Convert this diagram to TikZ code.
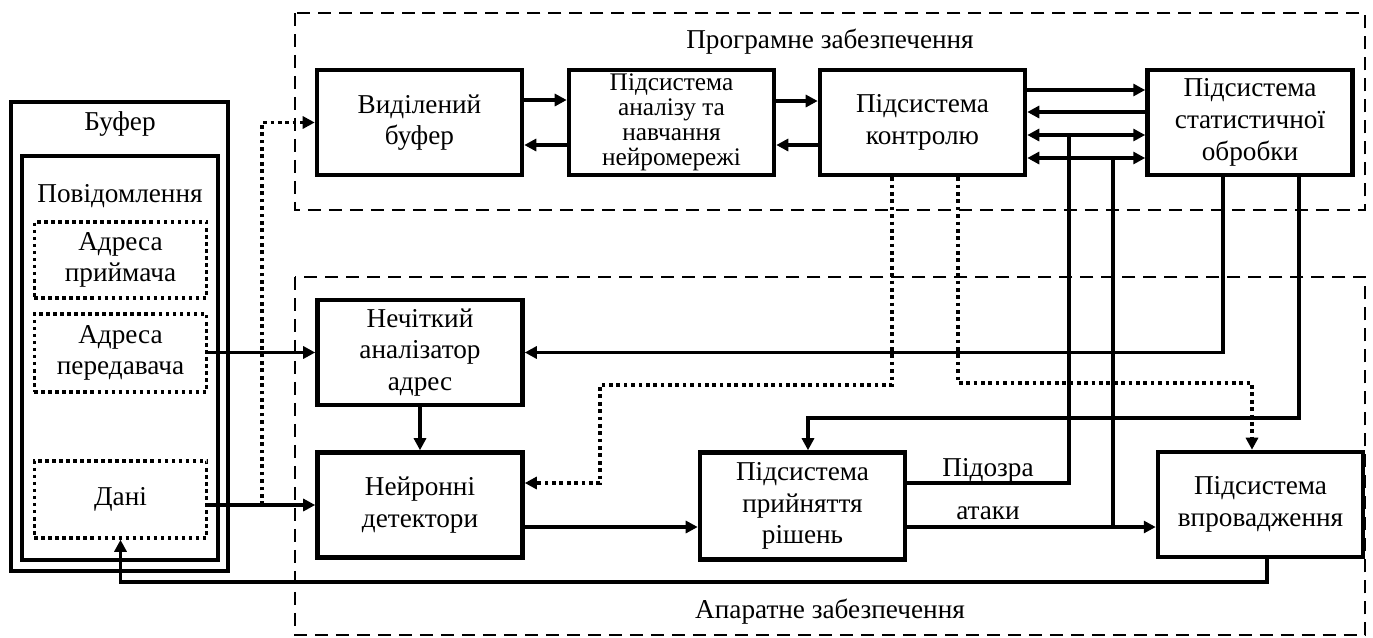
\documentclass[tikz,border=0pt]{standalone}
\usepackage{fontspec}
\setmainfont{Liberation Serif}
\usetikzlibrary{arrows.meta,calc}
\begin{document}
\begin{tikzpicture}[x=0.02cm,y=-0.02cm,
  font=\fontsize{15.5}{18}\selectfont,
  blk/.style={draw,line width=2.6pt,align=center,inner sep=0pt,minimum width=4.1cm,minimum height=2.1cm},
  dotbox/.style={draw,line width=2pt,dash pattern=on 2pt off 2pt,align=center,inner sep=0pt,minimum width=3.45cm},
  ln/.style={line width=2.1pt},
  arr/.style={ln,-{Triangle[length=0.24cm,width=0.24cm]}},
  arrb/.style={ln,{Triangle[length=0.24cm,width=0.24cm]}-{Triangle[length=0.24cm,width=0.24cm]}},
  dots/.style={line width=2.1pt,dash pattern=on 2.1pt off 2.1pt},
  darr/.style={dots,-{Triangle[length=0.24cm,width=0.24cm]}},
  dbox/.style={line width=1.5pt,dash pattern=on 0.26cm off 0.16cm},
  lbl/.style={inner sep=0pt}
]
\useasboundingbox (0,0) rectangle (1373,637);

% containers
\draw[dbox] (295,13) rectangle (1365,210);
\draw[dbox] (295,277) rectangle (1365,635);
\node[lbl] (sw) at (830,42) {Програмне забезпечення};
\node[lbl] (hw) at (830,612) {Апаратне забезпечення};

% buffer
\node[draw,line width=2.6pt,minimum width=4.34cm,minimum height=9.38cm,inner sep=0pt] (buf) at (119.5,336.5) {};
\node[draw,line width=2.6pt,minimum width=3.92cm,minimum height=8.08cm,inner sep=0pt] (msg) at (120,358) {};
\node[lbl] (buft) at (120,124) {Буфер};
\node[lbl] (msgt) at (120,196) {Повідомлення};
\node[dotbox,minimum height=1.52cm] (adrpr) at (120.5,260) {Адреса\\приймача};
\node[dotbox,minimum height=1.56cm] (adrpe) at (120.5,353) {Адреса\\передавача};
\node[dotbox,minimum height=1.54cm] (dani) at (120.5,499.5) {Дані};

% software blocks
\node[blk] (vyd) at (419.5,122.5) {Виділений\\буфер};
\node[blk,font=\fontsize{14.4}{14.3}\selectfont] (anal) at (671.5,122.5) {Підсистема\\аналізу та\\навчання\\нейромережі};
\node[blk] (kontr) at (922.5,122.5) {Підсистема\\контролю};
\node[blk] (stat) at (1250,122.5) {Підсистема\\статистичної\\обробки};

% hardware blocks
\node[blk] (anlz) at (420,352.5) {Нечіткий\\аналізатор\\адрес};
\node[blk] (det) at (420,505) {Нейронні\\детектори};
\node[blk,minimum height=2.14cm] (dec) at (802.5,506) {Підсистема\\прийняття\\рішень};
\node[blk] (vpr) at (1260.5,504.5) {Підсистема\\впровадження};

% top connectors
\draw[arr] (vyd.east |- 0,100) -- (anal.west |- 0,100);
\draw[arr] (anal.west |- 0,145) -- (vyd.east |- 0,145);
\draw[arr] (anal.east |- 0,101) -- (kontr.west |- 0,101);
\draw[arr] (kontr.west |- 0,145) -- (anal.east |- 0,145);
\draw[arr] (kontr.east |- 0,90) -- (stat.west |- 0,90);
\draw[arr] (stat.west |- 0,112) -- (kontr.east |- 0,112);
\draw[arrb] (kontr.east |- 0,135) -- (stat.west |- 0,135);
\draw[arrb] (kontr.east |- 0,158) -- (stat.west |- 0,158);

% junctions
\coordinate (j1) at (1069,135);
\coordinate (j2) at (1113,158);
\coordinate (j3) at (1113,527);
\coordinate (jd) at (262,505);

% decision outputs
\draw[ln] (dec.east |- 0,483) -- (1069,483) -- (j1);
\draw[ln] (j2) -- (j3);
\draw[arr] (dec.east |- 0,527) -- (vpr.west |- 0,527);
\node[lbl] (susp) at (988,470) {Підозра};
\node[lbl] (att) at (988,513) {атаки};

% detectors
\draw[arr] (det.east |- 0,527) -- (dec.west |- 0,527);
\draw[arr] (anlz.south) -- (det.north);
\draw[arr] (adrpe.east |- anlz.west) -- (anlz.west);
\draw[arr] (dani.east |- det.west) -- (det.west);
\draw[darr] (jd) |- (vyd.west);

% statistics feedback
\draw[arr] (1223,0 |- stat.south) |- (anlz.east);
\draw[arr] (1299,0 |- stat.south) |- (808,418) -- (808,0 |- dec.north);

% control dotted
\draw[darr] (892,0 |- kontr.south) -- (892,385) -- (600,385) -- (600,483) -- (det.east |- 0,483);
\draw[darr] (958,0 |- kontr.south) -- (958,383) -| (1252,0 |- vpr.north);

% return to data
\draw[arr] (1267,0 |- vpr.south) -- (1267,582) -| (dani.south);
\end{tikzpicture}
\end{document}
